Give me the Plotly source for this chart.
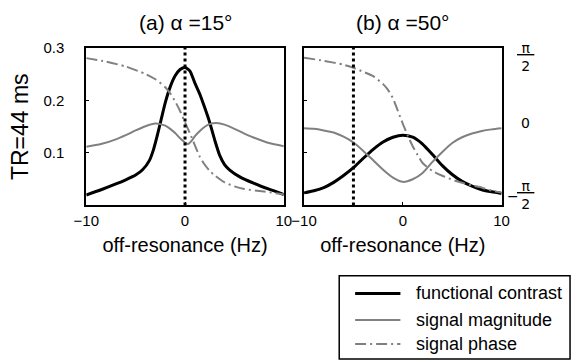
import math
import plotly.graph_objects as go

# ---------------- data ----------------
freq_a = [-10, -8.5, -7, -6, -5, -4.3, -3.6, -3.2, -2.8, -2.4, -2.0, -1.5, -1.0, -0.5, 0,
          0.5, 1.0, 1.5, 2.0, 2.5, 3.0, 3.5, 4.0, 4.5, 5.5, 7, 8.5, 10]
contrast_a = [0.020, 0.030, 0.041, 0.049, 0.058, 0.068, 0.086, 0.106, 0.134, 0.165, 0.196, 0.226, 0.247, 0.259, 0.263,
              0.256, 0.233, 0.212, 0.186, 0.158, 0.125, 0.096, 0.078, 0.068, 0.055, 0.042, 0.031, 0.021]

freq_mag_a = [-10, -8.5, -7, -6, -5, -4, -3, -2.5, -2, -1.5, -1, -0.5, 0, 0.3, 0.7, 1.0, 1.5, 2, 2.5, 3.2, 4, 5, 6, 7, 8.5, 10]
magnitude_a = [0.112, 0.117, 0.126, 0.134, 0.143, 0.151, 0.156, 0.155, 0.152, 0.146, 0.138, 0.128, 0.120, 0.117, 0.124,
               0.132, 0.142, 0.150, 0.155, 0.157, 0.154, 0.146, 0.137, 0.129, 0.119, 0.113]

freq_ph_a = [-10, -8, -6, -4, -3, -2, -1.5, -1, -0.5, 0, 0.5, 1, 1.5, 2, 2.5, 3, 4, 5, 6, 8, 10]
phase_a = [1.56, 1.48, 1.37, 1.20, 1.08, 0.90, 0.76, 0.58, 0.36, 0.10, -0.15, -0.42, -0.68, -0.86, -1.00, -1.10,
           -1.26, -1.35, -1.41, -1.47, -1.53]

freq_b = [-10, -9, -8, -7, -6, -5, -4, -3, -2, -1, 0, 1, 2, 3, 4, 5, 6, 7, 8, 9, 10]
contrast_b = [0.024, 0.028, 0.034, 0.044, 0.057, 0.072, 0.090, 0.107, 0.121, 0.130, 0.134, 0.130, 0.117, 0.097,
              0.076, 0.059, 0.046, 0.037, 0.030, 0.026, 0.023]
magnitude_b = [0.147, 0.146, 0.143, 0.139, 0.131, 0.120, 0.104, 0.086, 0.068, 0.053, 0.045, 0.050, 0.062, 0.083,
               0.102, 0.119, 0.130, 0.137, 0.142, 0.145, 0.147]

freq_ph_b = [-10, -8, -6, -5, -4, -3, -2, -1.5, -1, -0.5, 0, 0.5, 1, 1.5, 2, 3, 4, 5, 6, 7, 8, 9, 10]
phase_b = [1.57, 1.50, 1.41, 1.34, 1.25, 1.15, 0.97, 0.84, 0.65, 0.36, 0.07, -0.20, -0.44, -0.64, -0.82, -1.00,
           -1.11, -1.20, -1.27, -1.33, -1.38, -1.45, -1.49]

marker_freq_a = 0
marker_freq_b = -5

x_ticks = [-10, 0, 10]
x_ticktext = ["\u221210", "0", "10"]
y_ticks = [0.1, 0.2, 0.3]
y_ticktext = ["0.1", "0.2", "0.3"]
phase_ticks = [math.pi / 2, 0, -math.pi / 2]
phase_ticktext = ["<u>\u00a0\u03c0\u00a0</u><br>2", "0", "<u>\u00a0\u03c0\u00a0</u><br>2"]
phase_signs = ["", "", "\u2212"]

titles = ["(a) \u03b1 =15\u00b0", "(b) \u03b1 =50\u00b0"]
series_names = ["functional contrast", "signal magnitude", "signal phase"]

# ---------------- style ----------------
W, H = 579, 362
FONT = "Liberation Sans, Arial, Helvetica, sans-serif"
BLACK = "#000000"
GREY = "#808080"
PHASE_DASH = "11px,4px,2px,4px"

def px_x(p):
    return p / W

def px_y(p):
    return 1 - p / H

dom_a = [px_x(76), px_x(281)]
dom_b = [px_x(302), px_x(507)]
dom_y = [px_y(201.5), px_y(40)]
phase_range = [-1.785, 1.79]

fig = go.Figure()

# panel (a)
fig.add_trace(go.Scatter(x=freq_a, y=contrast_a, mode="lines", name=series_names[0], xaxis="x", yaxis="y",
                         line=dict(color=BLACK, width=3, shape="spline", smoothing=0.6), showlegend=False))
fig.add_trace(go.Scatter(x=freq_mag_a, y=magnitude_a, mode="lines", name=series_names[1], xaxis="x", yaxis="y",
                         line=dict(color=GREY, width=2, shape="spline", smoothing=0.6), showlegend=False))
fig.add_trace(go.Scatter(x=freq_ph_a, y=phase_a, mode="lines", name=series_names[2], xaxis="x", yaxis="y3",
                         line=dict(color=GREY, width=2, dash=PHASE_DASH, shape="spline", smoothing=0.6),
                         showlegend=False))
# panel (b)
fig.add_trace(go.Scatter(x=freq_b, y=contrast_b, mode="lines", name=series_names[0], xaxis="x2", yaxis="y2",
                         line=dict(color=BLACK, width=3, shape="spline", smoothing=0.6), showlegend=False))
fig.add_trace(go.Scatter(x=freq_b, y=magnitude_b, mode="lines", name=series_names[1], xaxis="x2", yaxis="y2",
                         line=dict(color=GREY, width=2, shape="spline", smoothing=0.6), showlegend=False))
fig.add_trace(go.Scatter(x=freq_ph_b, y=phase_b, mode="lines", name=series_names[2], xaxis="x2", yaxis="y4",
                         line=dict(color=GREY, width=2, dash=PHASE_DASH, shape="spline", smoothing=0.6),
                         showlegend=False))

# vertical dotted markers
fig.add_shape(type="line", xref="x", yref="y domain", x0=marker_freq_a, x1=marker_freq_a, y0=0, y1=1,
              line=dict(color=BLACK, width=3, dash="dot"))
fig.add_shape(type="line", xref="x2", yref="y2 domain", x0=marker_freq_b, x1=marker_freq_b, y0=0, y1=1,
              line=dict(color=BLACK, width=3, dash="dot"))

tickfont = dict(family=FONT, size=15, color=BLACK)
axis_common = dict(showgrid=False, zeroline=False, showline=True, linecolor=BLACK, linewidth=2, mirror=True,
                   ticks="inside", ticklen=3, tickcolor=BLACK, tickfont=tickfont)

fig.update_layout(
    width=W, height=H,
    margin=dict(l=0, r=0, t=0, b=0),
    paper_bgcolor="white", plot_bgcolor="white",
    font=dict(family=FONT, color=BLACK),
    xaxis=dict(domain=dom_a, range=[-10, 10], tickvals=x_ticks, ticktext=x_ticktext, anchor="y",
               title=dict(text="off-resonance (Hz)", font=dict(family=FONT, size=20), standoff=10),
               ticklabelstandoff=1, **axis_common),
    yaxis=dict(domain=dom_y, range=[0, 0.3], tickvals=y_ticks, ticktext=y_ticktext, anchor="x",
               title=dict(text="TR=44 ms", font=dict(family=FONT, size=23), standoff=8),
               ticklabelstandoff=17, **axis_common),
    xaxis2=dict(domain=dom_b, range=[-10, 10], tickvals=x_ticks, ticktext=x_ticktext, anchor="y2",
                title=dict(text="off-resonance (Hz)", font=dict(family=FONT, size=20), standoff=10),
                ticklabelstandoff=1, **axis_common),
    yaxis2=dict(domain=dom_y, range=[0, 0.3], tickvals=y_ticks, showticklabels=False, anchor="x2",
                **axis_common),
    yaxis3=dict(overlaying="y", range=phase_range, visible=False, anchor="x"),
    yaxis4=dict(overlaying="y2", side="right", range=phase_range, tickvals=phase_ticks, showticklabels=False,
                anchor="x2", showgrid=False, zeroline=False, showline=False, ticks=""),
)

# right-hand phase axis labels (stacked fractions), placed on the phase scale
for val, txt, sign in zip(phase_ticks, phase_ticktext, phase_signs):
    fig.add_annotation(text=txt, xref="paper", yref="y4", x=px_x(531.5), y=val, xanchor="center",
                       yanchor="middle", showarrow=False, yshift=4 if val == 0 else 1,
                       font=dict(family="DejaVu Sans, sans-serif", size=14, color=BLACK))
    if sign:
        fig.add_annotation(text=sign, xref="paper", yref="y4", x=px_x(519), y=val, xanchor="center",
                           yanchor="middle", showarrow=False,
                           font=dict(family="DejaVu Sans, sans-serif", size=14, color=BLACK))

# panel titles
for t, cx in zip(titles, [179, 405]):
    fig.add_annotation(text=t, xref="paper", yref="paper", x=px_x(cx), y=px_y(14), xanchor="center",
                       yanchor="middle", showarrow=False, font=dict(family=FONT, size=21, color=BLACK))

# legend (drawn manually to match the reference box)
fig.add_shape(type="rect", xref="paper", yref="paper", x0=px_x(338.5), x1=px_x(578), y0=px_y(359), y1=px_y(273.5),
              line=dict(color=BLACK, width=1.5), fillcolor="white")
legend_rows = [291.7, 319, 343.5]
legend_styles = [dict(color=BLACK, width=3), dict(color=GREY, width=2), dict(color=GREY, width=2, dash=PHASE_DASH)]
for name, ry, st in zip(series_names, legend_rows, legend_styles):
    fig.add_shape(type="line", xref="paper", yref="paper", x0=px_x(355), x1=px_x(402), y0=px_y(ry), y1=px_y(ry),
                  line=st)
    fig.add_annotation(text=name, xref="paper", yref="paper", x=px_x(416), y=px_y(ry), xanchor="left",
                       yanchor="middle", showarrow=False, font=dict(family=FONT, size=18, color=BLACK))

fig.write_html("out.html", post_script="document.body.style.margin='0';",
               config={"displayModeBar": False})
